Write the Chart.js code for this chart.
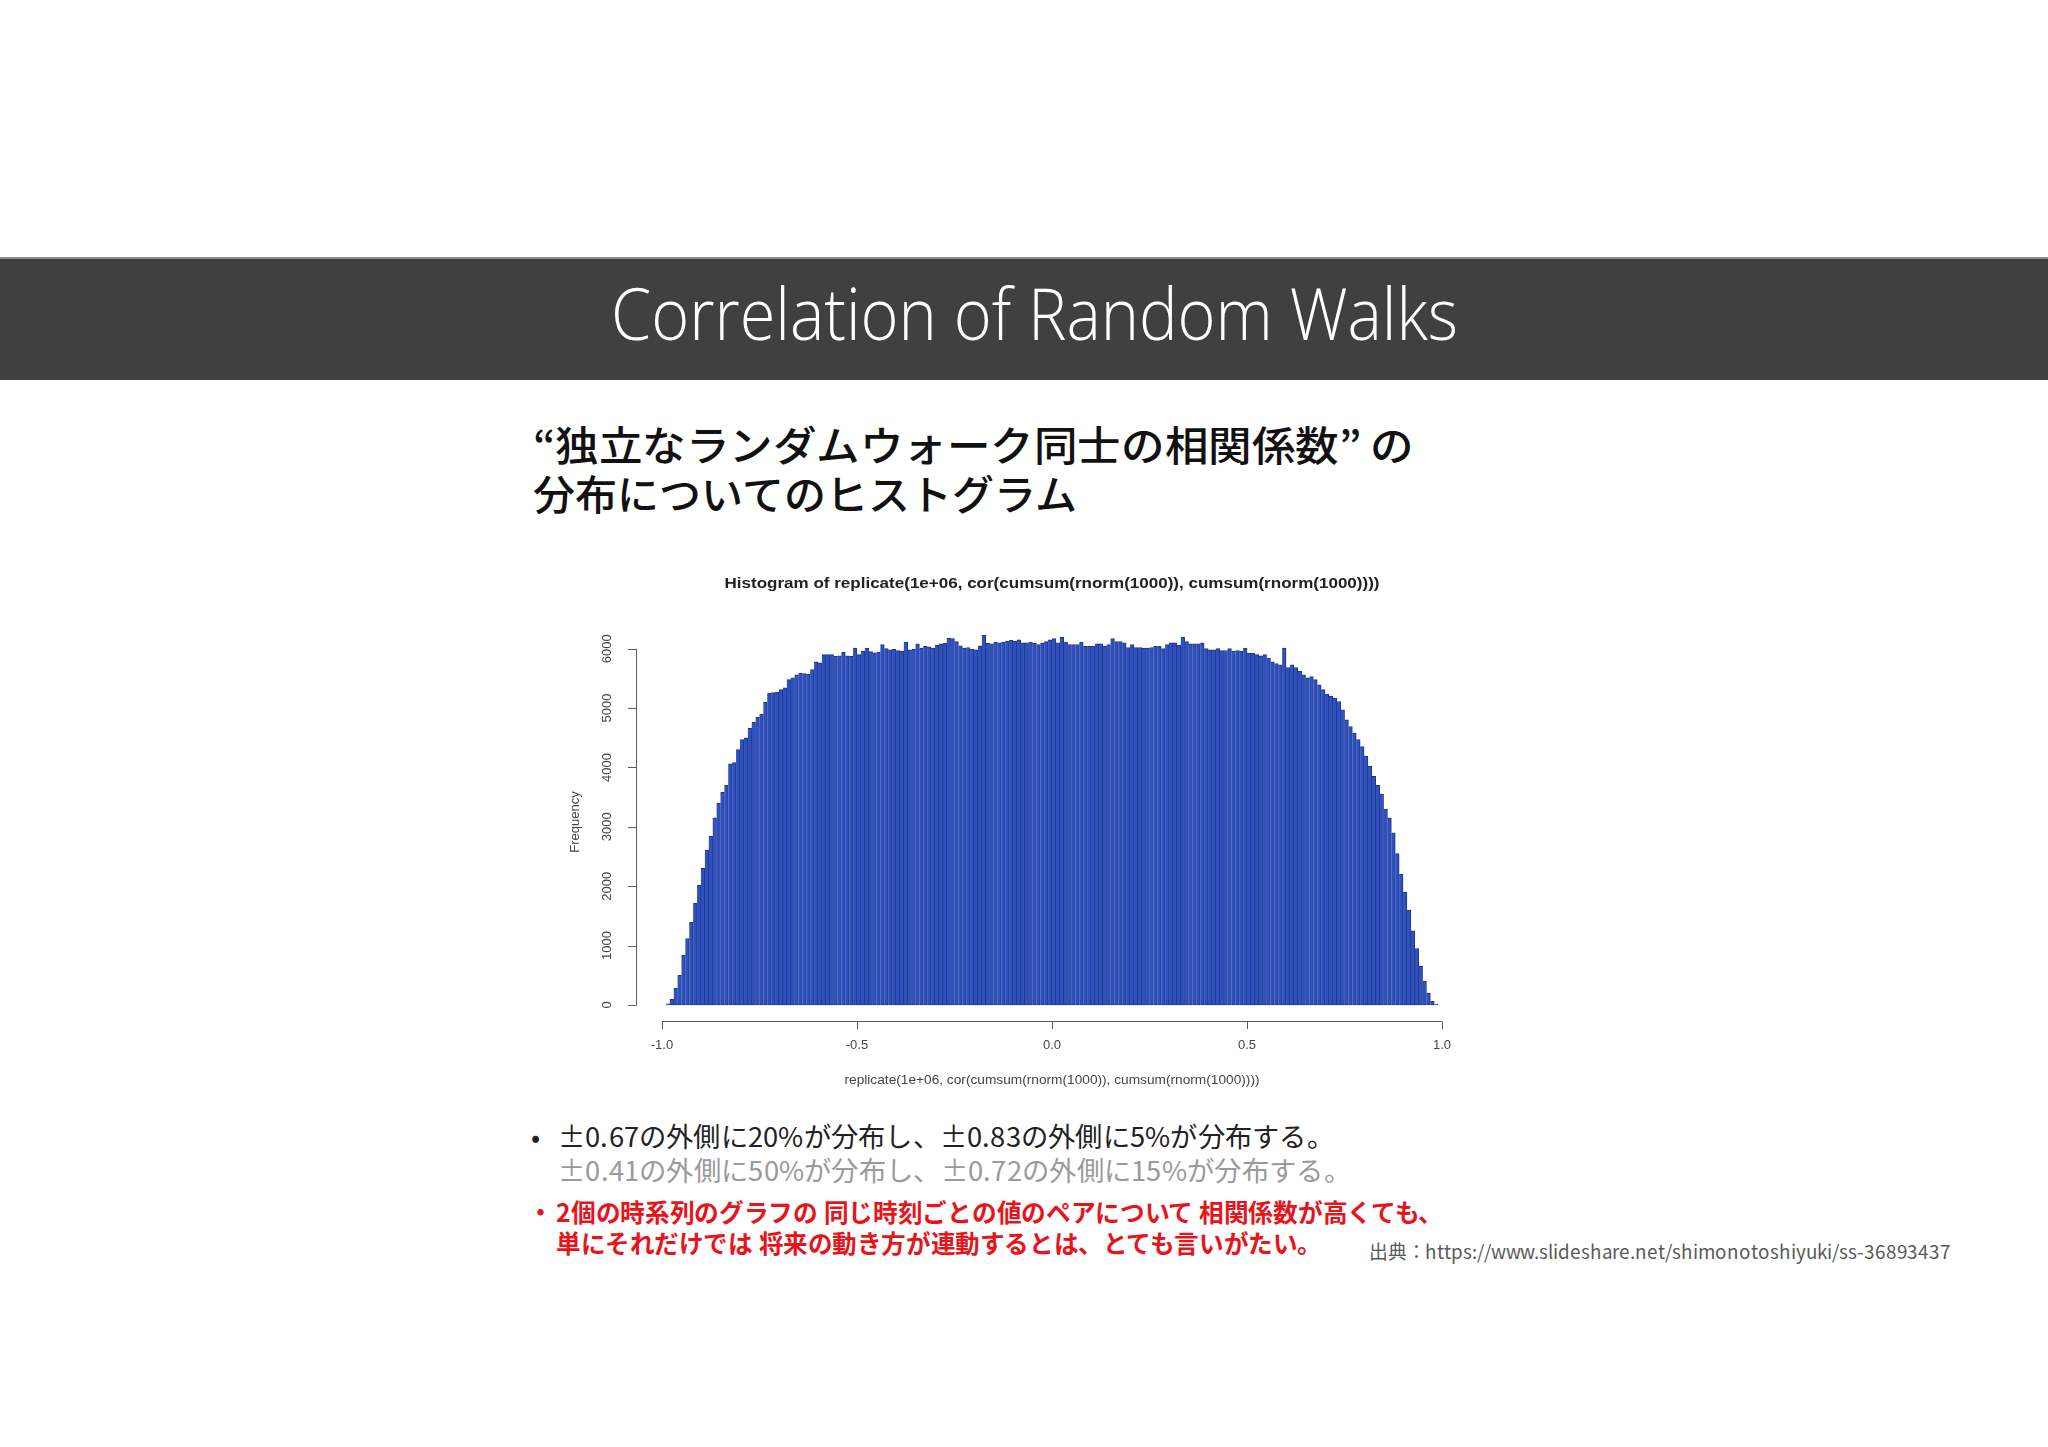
<!DOCTYPE html>
<html>
<head>
<meta charset="utf-8">
<script src="https://cdn.jsdelivr.net/npm/chart.js@4.4.1/dist/chart.umd.min.js"></script>
<style>
  /* Noto CJK with an em-tall line box, so tight slide lines do not collide */
  @font-face { font-family: 'JPT'; font-weight: 400; src: local('Noto Sans CJK JP Regular'), local('NotoSansCJKjp-Regular'), local('NotoSansCJKJP-Regular'), local('Noto Sans CJK JP'); ascent-override: 88%; descent-override: 12%; line-gap-override: 0%; }
  @font-face { font-family: 'JPT'; font-weight: 500; src: local('Noto Sans CJK JP Medium'), local('NotoSansCJKjp-Medium'), local('NotoSansCJKJP-Medium'), local('Noto Sans CJK JP Bold'), local('NotoSansCJKjp-Bold'); ascent-override: 88%; descent-override: 12%; line-gap-override: 0%; }
  @font-face { font-family: 'JPT'; font-weight: 700; src: local('Noto Sans CJK JP Bold'), local('NotoSansCJKjp-Bold'), local('NotoSansCJKJP-Bold'); ascent-override: 88%; descent-override: 12%; line-gap-override: 0%; }
  html, body { margin: 0; padding: 0; background: #fff; }
  body { width: 2048px; height: 1447px; position: relative; overflow: hidden; }
  .bar { position: absolute; left: 0; top: 257px; width: 2048px; height: 123px; background: #404040; border-top: 2px solid #8a8a8a; box-sizing: border-box; }
  .txt { position: absolute; white-space: nowrap; display: inline-block; transform-origin: left center; }
  #chartBox { position: absolute; left: 520px; top: 560px; width: 980px; height: 560px; }
</style>
</head>
<body>
<div class="bar"></div>
<span class="txt" data-w="847" style="left:611px; top:263px; font: 300 72px 'Open Sans', sans-serif; line-height:normal; color:#fff;">Correlation of Random Walks</span>

<span class="txt" data-w="881" style="left:533px; top:424.5px; font: 500 41px 'JPT', 'Noto Sans CJK JP', sans-serif; line-height:1; color:#111;">“独立なランダムウォーク同士の相関係数” の</span>
<span class="txt" data-w="544" style="left:533px; top:473.5px; font: 500 41px 'JPT', 'Noto Sans CJK JP', sans-serif; line-height:1; color:#111;">分布についてのヒストグラム</span>

<div id="chartBox"><canvas id="histChart"></canvas></div>

<span class="txt" style="left:531px; top:1122.5px; font: 400 27px 'JPT', 'Noto Sans CJK JP', sans-serif; line-height:1; color:#222;">•</span>
<span class="txt" data-w="776" style="left:558px; top:1122.5px; font: 400 27px 'JPT', 'Noto Sans CJK JP', sans-serif; line-height:1; color:#222;">±0.67の外側に20%が分布し、±0.83の外側に5%が分布する。</span>
<span class="txt" data-w="793" style="left:558px; top:1156.5px; font: 400 27px 'JPT', 'Noto Sans CJK JP', sans-serif; line-height:1; color:#9a9a9a;">±0.41の外側に50%が分布し、±0.72の外側に15%が分布する。</span>
<span class="txt" style="left:528px; top:1199.5px; font: 700 25px 'JPT', 'Noto Sans CJK JP', sans-serif; line-height:1; color:#e8141c;">・</span>
<span class="txt" data-w="887" style="left:556px; top:1199.5px; font: 700 25px 'JPT', 'Noto Sans CJK JP', sans-serif; line-height:1; color:#e8141c;">2個の時系列のグラフの 同じ時刻ごとの値のペアについて 相関係数が高くても、</span>
<span class="txt" data-w="766" style="left:556px; top:1230.5px; font: 700 25px 'JPT', 'Noto Sans CJK JP', sans-serif; line-height:1; color:#e8141c;">単にそれだけでは 将来の動き方が連動するとは、とても言いがたい。</span>
<span class="txt" data-w="582" style="left:1369px; top:1241.5px; font: 400 19px 'JPT', 'Noto Sans CJK JP', sans-serif; line-height:1; color:#595959;">出典：https://www.slideshare.net/shimonotoshiyuki/ss-36893437</span>

<script>
// histogram of 1e6 correlations, 200 bins of width 0.01 on [-1, 1]
const binStart = -1;
const binWidth = 0.01;
const counts = [
  0, 20, 100, 280, 500, 840, 1120, 1390, 1710, 2020,
  2300, 2610, 2840, 3150, 3400, 3580, 3700, 4060, 4080, 4300,
  4470, 4500, 4660, 4760, 4850, 4900, 5100, 5250, 5260, 5270,
  5310, 5340, 5480, 5510, 5560, 5590, 5580, 5570, 5650, 5780,
  5760, 5900, 5900, 5900, 5870, 5880, 5940, 5880, 5870, 6010,
  5900, 5960, 6010, 5950, 5930, 5940, 6070, 6000, 5980, 5990,
  5970, 5960, 6110, 5980, 5990, 6080, 6010, 6040, 6030, 6010,
  6060, 6080, 6090, 6180, 6170, 6120, 6050, 6010, 6020, 5990,
  5980, 6050, 6230, 6090, 6080, 6110, 6100, 6110, 6130, 6140,
  6130, 6150, 6100, 6100, 6110, 6090, 6070, 6100, 6120, 6150,
  6170, 6100, 6190, 6110, 6070, 6070, 6070, 6110, 6040, 6040,
  6040, 6080, 6080, 6040, 6070, 6170, 6120, 6120, 6100, 6020,
  6070, 6020, 6020, 6010, 6010, 6020, 6040, 6040, 6000, 6070,
  6100, 6100, 6060, 6190, 6120, 6080, 6080, 6080, 6100, 6000,
  5980, 5980, 6000, 5970, 5970, 6000, 5960, 5970, 5960, 6010,
  5920, 5920, 5900, 5880, 5900, 5840, 5780, 5750, 5730, 6010,
  5680, 5730, 5680, 5620, 5560, 5510, 5530, 5480, 5390, 5310,
  5230, 5200, 5170, 5110, 4970, 4800, 4690, 4580, 4470, 4350,
  4190, 4020, 3850, 3700, 3550, 3300, 3150, 2900, 2550, 2200,
  1900, 1600, 1250, 950, 650, 400, 200, 60, 10, 0
];
const yTicks = [0, 1000, 2000, 3000, 4000, 5000, 6000];
const xTicks = [-1, -0.5, 0, 0.5, 1];
const xTickLabels = ['-1.0', '-0.5', '0.0', '0.5', '1.0'];
const mainTitle = 'Histogram of replicate(1e+06, cor(cumsum(rnorm(1000)), cumsum(rnorm(1000))))';
const xTitle = 'replicate(1e+06, cor(cumsum(rnorm(1000)), cumsum(rnorm(1000))))';
const yTitle = 'Frequency';

const binMids = counts.map((_, i) => binStart + binWidth * (i + 0.5));

// draw a text centred at (cx, cy), squeezed or stretched to width w
function fitText(ctx, text, cx, cy, w) {
  const m = ctx.measureText(text).width;
  ctx.save();
  ctx.translate(cx, cy);
  ctx.scale(w / m, 1);
  ctx.fillText(text, 0, 0);
  ctx.restore();
}

// R-style axes: lines only span the tick range, y labels rotated
const rAxes = {
  id: 'rAxes',
  afterDraw(chart) {
    const { ctx, chartArea, scales: { x, y } } = chart;
    const ax = chartArea.left;
    const ay = chartArea.bottom;
    const midX = (chartArea.left + chartArea.right) / 2;
    ctx.save();
    ctx.strokeStyle = '#5a5a5a';
    ctx.lineWidth = 1;
    ctx.beginPath();
    ctx.moveTo(ax + 0.5, y.getPixelForValue(yTicks[0]));
    ctx.lineTo(ax + 0.5, y.getPixelForValue(yTicks[yTicks.length - 1]));
    yTicks.forEach(v => {
      const py = Math.round(y.getPixelForValue(v)) + 0.5;
      ctx.moveTo(ax + 0.5, py);
      ctx.lineTo(ax - 8, py);
    });
    ctx.moveTo(x.getPixelForValue(xTicks[0]), ay + 0.5);
    ctx.lineTo(x.getPixelForValue(xTicks[xTicks.length - 1]), ay + 0.5);
    xTicks.forEach(v => {
      const px = Math.round(x.getPixelForValue(v)) + 0.5;
      ctx.moveTo(px, ay + 0.5);
      ctx.lineTo(px, ay + 8);
    });
    ctx.stroke();

    ctx.textAlign = 'center';
    ctx.textBaseline = 'middle';

    ctx.fillStyle = '#222';
    ctx.font = 'bold 15px "Liberation Sans", Arial, sans-serif';
    fitText(ctx, mainTitle, midX, chartArea.top - 35, 655);

    ctx.fillStyle = '#444';
    ctx.font = '13px "Liberation Sans", Arial, sans-serif';
    yTicks.forEach(v => {
      ctx.save();
      ctx.translate(ax - 29, y.getPixelForValue(v));
      ctx.rotate(-Math.PI / 2);
      ctx.fillText(String(v), 0, 0);
      ctx.restore();
    });
    xTicks.forEach((v, i) => {
      ctx.fillText(xTickLabels[i], x.getPixelForValue(v), ay + 24);
    });
    fitText(ctx, xTitle, midX, ay + 59, 415);
    ctx.save();
    ctx.translate(ax - 61, (chartArea.top + chartArea.bottom) / 2 + 2);
    ctx.rotate(-Math.PI / 2);
    ctx.fillText(yTitle, 0, 0);
    ctx.restore();
    ctx.restore();
  }
};

new Chart(document.getElementById('histChart'), {
  type: 'bar',
  data: {
    datasets: [{
      data: binMids.map((m, i) => ({ x: m, y: counts[i] })),
      backgroundColor: '#2f51bf',
      borderColor: '#21357f',
      borderWidth: { top: 1, right: 1, bottom: 1, left: 0 },
      borderSkipped: false,
      barPercentage: 1,
      categoryPercentage: 1,
      grouped: false
    }]
  },
  options: {
    responsive: true,
    maintainAspectRatio: false,
    animation: false,
    layout: { padding: { left: 116, right: 32, top: 59, bottom: 99 } },
    plugins: {
      legend: { display: false },
      tooltip: { enabled: false },
      title: { display: false }
    },
    scales: {
      x: { type: 'linear', min: -1.0665, max: 1.0665, offset: false, display: false },
      y: { min: -270, max: 6500, display: false }
    }
  },
  plugins: [rAxes]
});

// squeeze text runs to the widths seen in the slide
document.fonts.ready.then(() => {
  document.querySelectorAll('.txt[data-w]').forEach(el => {
    const w = el.getBoundingClientRect().width;
    const target = +el.dataset.w;
    if (w > 0) el.style.transform = 'scaleX(' + (target / w).toFixed(4) + ')';
  });
});
</script>
</body>
</html>
